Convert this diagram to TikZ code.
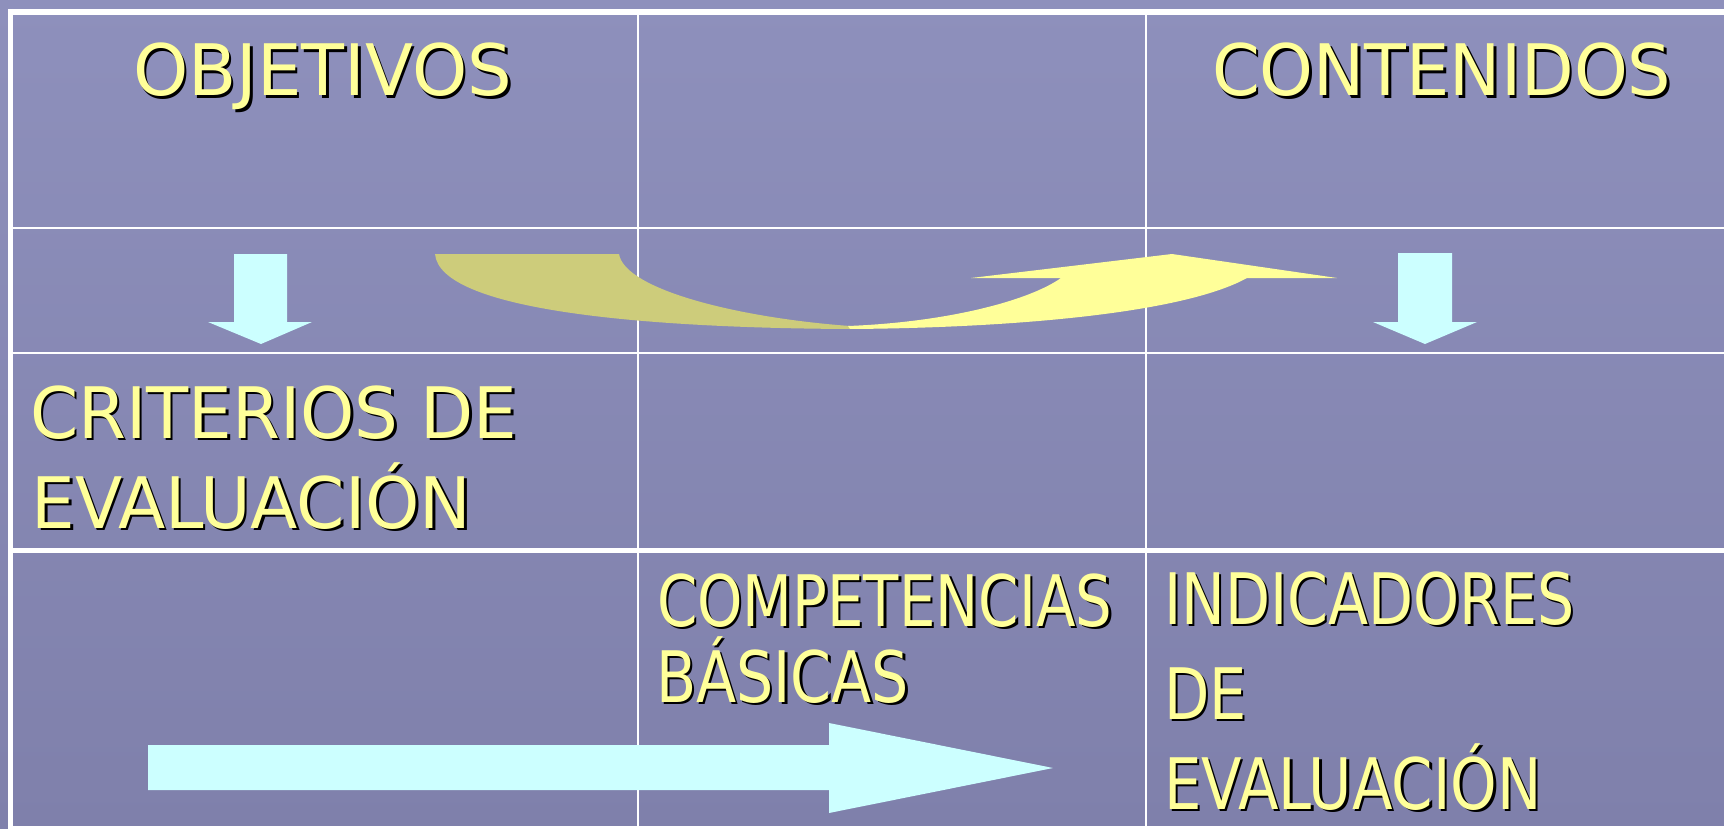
\documentclass[tikz,border=0pt]{standalone}
\usepackage{fontspec}
\setmainfont{DejaVu Sans}
\usepackage{graphicx}
\definecolor{bgtop}{HTML}{8E90BC}
\definecolor{bgbot}{HTML}{7F80AB}
\definecolor{txtyellow}{HTML}{FFFF99}
\definecolor{arrowcyan}{HTML}{CCFFFF}
\definecolor{arrowtan}{HTML}{CDCC7B}
\definecolor{arrowyellow}{HTML}{FFFF99}
\newcommand\shtxt[2]{\makebox[0pt][l]{\kern2.5pt\raisebox{-2.5pt}{\color{black}\scalebox{#1}[1]{#2}}}\scalebox{#1}[1]{#2}}
\begin{document}
\begin{tikzpicture}[x=1pt,y=-1pt,
  txt/.style={anchor=base west, inner sep=0pt, outer sep=0pt, text=txtyellow, font=\fontsize{71}{85}\selectfont},
  gridthin/.style={draw=white, line width=2.5pt},
  gridthick/.style={draw=white, line width=5pt},
  cyanarrow/.style={fill=arrowcyan, draw=none},
  backarrow/.style={fill=arrowtan, draw=none},
  frontarrow/.style={fill=arrowyellow, draw=none}]
\useasboundingbox (0,0) rectangle (1724,829);
\shade[top color=bgtop, bottom color=bgbot] (0,0) rectangle (1724,829);

% table lines
\draw[gridthin] (10,228) -- (1724,228);
\draw[gridthin] (10,353) -- (1724,353);
\draw[gridthin] (10,827.5) -- (1724,827.5);
\draw[gridthin] (638,12) -- (638,829);
\draw[gridthin] (1146,12) -- (1146,829);
\draw[gridthick] (10,550.5) -- (1724,550.5);
\draw[draw=white, line width=6pt] (8,12) -- (1724,12);
\draw[gridthick] (10.5,9) -- (10.5,829);

% texts
\node[txt] (obj) at (133,96) {\shtxt{0.99}{OBJETIVOS}};
\node[txt] (cont) at (1212,96) {\shtxt{0.964}{CONTENIDOS}};
\node[txt] (crit1) at (30,438) {\shtxt{0.972}{CRITERIOS DE}};
\node[txt] (crit2) at (31.5,528) {\shtxt{0.973}{EVALUACIÓN}};
\node[txt] (comp1) at (657,626) {\shtxt{0.813}{COMPETENCIAS}};
\node[txt] (comp2) at (656,702) {\shtxt{0.826}{BÁSICAS}};
\node[txt] (ind1) at (1164,624) {\shtxt{0.825}{INDICADORES}};
\node[txt] (ind2) at (1164,719) {\shtxt{0.83}{DE}};
\node[txt] (ind3) at (1164,809) {\shtxt{0.835}{EVALUACIÓN}};

% down arrows
\fill[cyanarrow] (234,254) -- (287,254) -- (287,322) -- (312,322) -- (261,344) -- (208,322) -- (234,322) -- cycle;
\fill[cyanarrow] (1398,253) -- (1452,253) -- (1452,322) -- (1477,322) -- (1425,344) -- (1373,322) -- (1398,322) -- cycle;

% long right arrow
\fill[cyanarrow] (148,745) -- (829,745) -- (829,723) -- (1053,768) -- (829,813) -- (829,790) -- (148,790) -- cycle;

% curved up arrow: back part
\fill[backarrow] (435,254) -- (619,254)
  .. controls (625,290) and (740,318) .. (850,326)
  -- (850,329)
  .. controls (640,328) and (440,310) .. (435,254) -- cycle;
% curved up arrow: front part
\fill[frontarrow] (848,326)
  .. controls (950,322) and (1030,300) .. (1061,278)
  -- (971,278) -- (1172,254) -- (1337,278) -- (1247,278)
  .. controls (1180,315) and (1000,328) .. (850,329) -- cycle;
\end{tikzpicture}
\end{document}
